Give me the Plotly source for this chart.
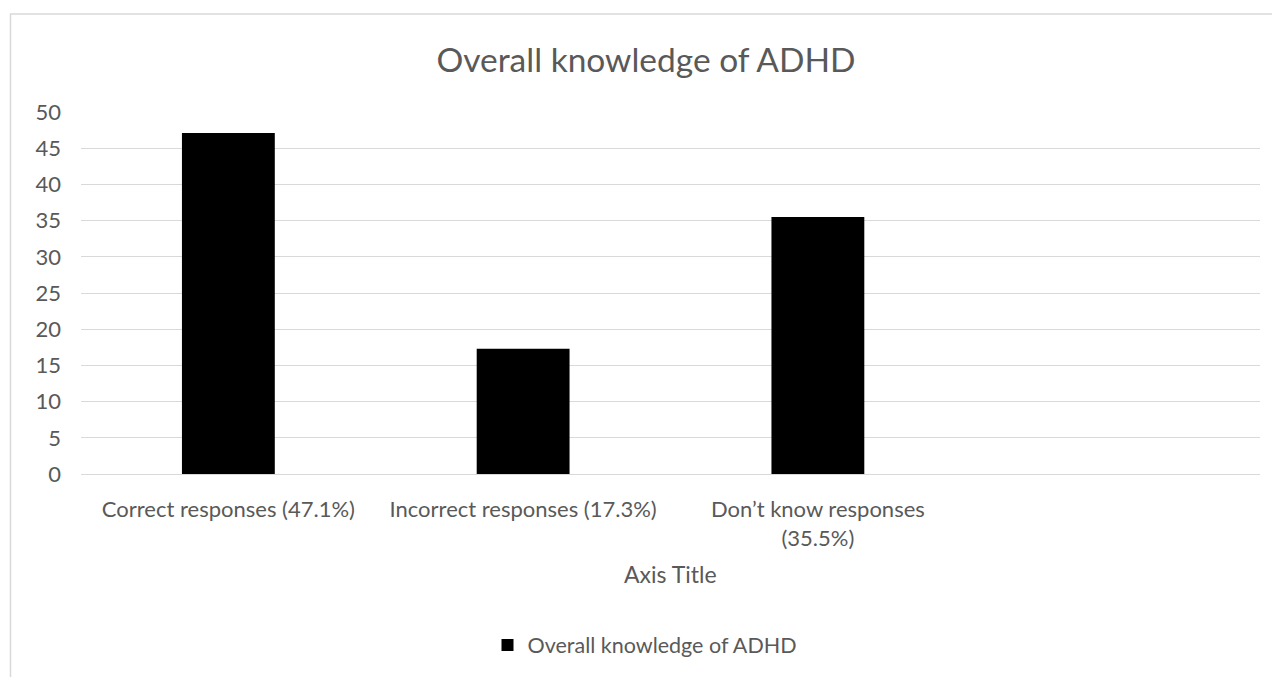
import plotly.graph_objects as go

categories = ["Correct responses (47.1%)", "Incorrect responses (17.3%)", "Don’t know responses<br>(35.5%)"]
values = [47.1, 17.3, 35.5]
series_name = "Overall knowledge of ADHD"
chart_title = "Overall knowledge of ADHD"
x_axis_title = "Axis Title"
y_ticks = [0, 5, 10, 15, 20, 25, 30, 35, 40, 45, 50]

FONT = "Lato"
TXT = "#595959"
GRID = "#d9d9d9"

fig = go.Figure()
fig.add_trace(go.Bar(x=categories, y=values, name=series_name,
                     marker=dict(color="#000000", line=dict(width=0)),
                     showlegend=True))

fig.update_layout(
    width=1272, height=677,
    margin=dict(l=81, r=12, t=112, b=201),
    paper_bgcolor="white", plot_bgcolor="white",
    bargap=0.685,
    font=dict(family=FONT, color=TXT, size=22),
    title=dict(text=chart_title, x=646/1272, xref="container", xanchor="center",
               y=1-60/677, yref="container", yanchor="middle",
               font=dict(family=FONT, size=33.5, color=TXT)),
    showlegend=True,
    legend=dict(orientation="h", x=(645-81)/1179, xanchor="center",
                y=-(648-476)/364, yanchor="middle",
                font=dict(family=FONT, size=21.5, color=TXT),
                itemwidth=30),
    xaxis=dict(type="category", range=[-0.5, 3.5], showgrid=False, showline=False,
               zeroline=False, ticks="", tickfont=dict(family=FONT, size=22, color=TXT),
               ticklabelstandoff=20),
    yaxis=dict(range=[0, 50], tickvals=y_ticks, showgrid=True, gridcolor=GRID, gridwidth=1,
               zeroline=True, zerolinecolor=GRID, zerolinewidth=1, showline=False,
               ticks="", tickfont=dict(family=FONT, size=22, color=TXT),
               ticklabelstandoff=19),
    annotations=[dict(text=x_axis_title, xref="paper", yref="paper",
                      x=0.5, y=-(577-476)/364, xanchor="center", yanchor="middle",
                      showarrow=False, font=dict(family=FONT, size=23, color=TXT))],
    shapes=[dict(type="rect", xref="paper", yref="paper",
                 x0=(10.5-81)/1179, x1=1.2, y0=-1.0, y1=(476-13.5)/364,
                 line=dict(color=GRID, width=1.5), fillcolor="rgba(0,0,0,0)", layer="below")],
)

fig.write_html("out.html")
